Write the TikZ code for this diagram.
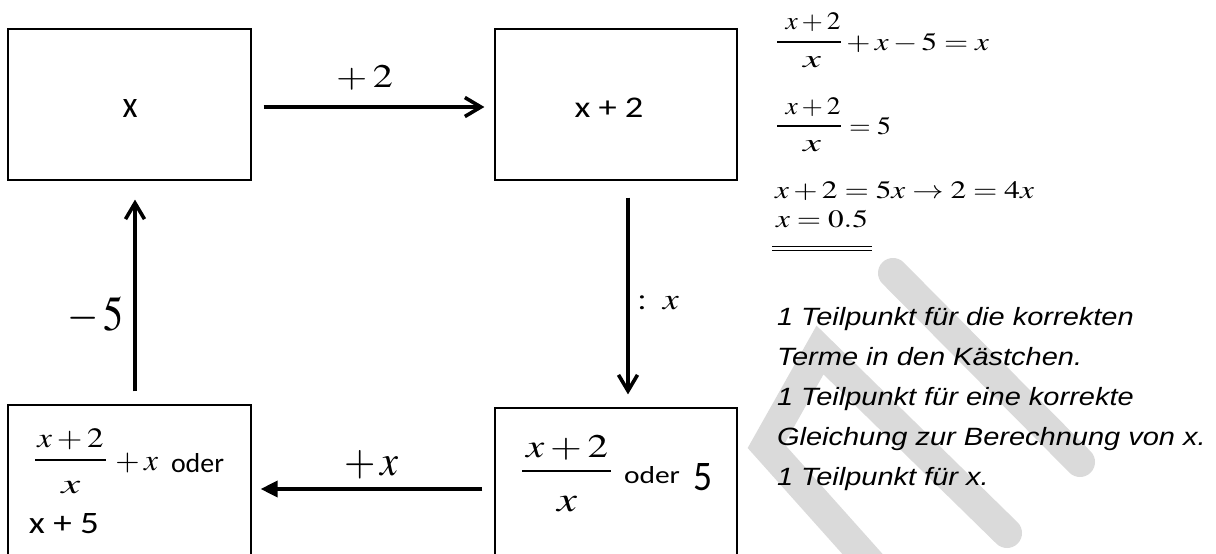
\documentclass[tikz,border=0pt]{standalone}
\usepackage{amsmath}
\usepackage{mathptmx}
\usepackage{fontspec}
\usepackage{graphicx}
\usetikzlibrary{arrows.meta}
\newfontfamily\boxfont{Carlito}
\newfontfamily\notefont{Liberation Sans}
\definecolor{wmark}{RGB}{218,218,218}
\newcommand{\fs}[1]{\fontsize{#1}{#1}\selectfont}
% math: width #1 pt at font size #2 pt (horizontal scaling only)
\newcommand{\rzm}[3]{\resizebox{#1pt}{\height}{\fs{#2}$#3$}}
% text: fit into width #1 pt and height #2 pt
\newcommand{\rzt}[3]{\resizebox{#1pt}{#2pt}{\boxfont\fs{20}#3}}
\tikzset{
 boxnode/.style={draw=black, line width=1.2pt, fill=white, rectangle, inner sep=0pt},
 plain/.style={inner sep=0pt, outer sep=0pt},
 barbarrow/.style={line width=3.6pt, -{Straight Barb[length=16pt,width=19pt]}},
 trarrow/.style={line width=3.6pt, -{Triangle[length=17pt,width=16pt]}},
 wmstroke/.style={wmark, line width=30pt, line cap=round, line join=miter},
 fbar/.style={line width=1.3pt},
}
\begin{document}
\begin{tikzpicture}[x=1pt,y=-1pt]
\useasboundingbox (0,0) rectangle (1216,554);
\clip (0,0) rectangle (1216,554);
% watermark
\draw[wmstroke] (875,568) -- (766,446) -- (820,350) -- (1007,533);
\draw[wmstroke] (893,273) -- (1080,462);
% boxes
\node[boxnode, minimum width=243pt, minimum height=151pt] (b1) at (129.5,104.5) {};
\node[boxnode, minimum width=242pt, minimum height=151pt] (b2) at (616,104.5) {};
\node[boxnode, minimum width=243pt, minimum height=155pt] (b3) at (129.5,482.5) {};
\node[boxnode, minimum width=242pt, minimum height=152pt] (b4) at (616,484) {};
% box texts
\node[plain, anchor=base] (t1) at (130,117) {\rzt{15}{18}{x}};
\node[plain, anchor=base] (t2) at (609,117) {\rzt{69}{19.5}{x + 2}};
% box 3
\node[plain, anchor=base] (n3) at (70.5,447) {\rzm{66}{28}{x+2}};
\draw[fbar] (35,460) -- (106,460);
\node[plain, anchor=base] (d3) at (71,493) {\rzm{19}{28}{x}};
\node[plain, anchor=base west] (p3) at (111,470) {\rzm{47}{30}{{}+x}};
\node[plain, anchor=base west] (o3) at (171,472) {\rzt{53}{19}{oder}};
\node[plain, anchor=base west] (t3) at (29,533) {\rzt{70}{20}{x + 5}};
% box 4
\node[plain, anchor=base] (n4) at (567,457) {\rzm{82}{33}{x+2}};
\draw[fbar] (522,471) -- (611,471);
\node[plain, anchor=base] (d4) at (567,511) {\rzm{20}{35}{x}};
\node[plain, anchor=base west] (o4) at (624,483) {\rzt{56}{17}{oder}};
\node[plain, anchor=base west] (f4) at (693,490) {\rzt{19}{27}{5}};
% arrows
\draw[barbarrow, shorten <=12pt, shorten >=10pt] ([yshift=-2.5pt]b1.east) -- ([yshift=-2.5pt]b2.west);
\draw[barbarrow, shorten <=17pt, shorten >=13pt] ([xshift=12pt]b2.south) -- ([xshift=12pt]b4.north);
\draw[trarrow, shorten <=12pt, shorten >=9pt] ([yshift=-5pt]b4.west) -- ([yshift=-6.5pt]b3.east);
\draw[barbarrow, shorten <=13pt, shorten >=19pt] ([xshift=5.5pt]b3.north) -- ([xshift=5.5pt]b1.south);
% arrow labels
\node[plain, anchor=base west] (l1) at (336,87) {\rzm{57}{33}{+\>2}};
\node[plain, anchor=base west] (l2) at (637,309) {\rzm{42}{30}{:\;x}};
\node[plain, anchor=base west] (l3) at (344,475) {\rzm{55}{43}{+\>x}};
\node[plain, anchor=base west] (l4) at (67,330) {\rzm{57}{49}{-\>5}};
% equations
\node[plain, anchor=base] (e1n) at (813,30) {\rzm{55}{25}{x+2}};
\draw[fbar] (777,42) -- (841,42);
\node[plain, anchor=base] (e1d) at (812,67) {\rzm{18}{25}{x}};
\node[plain, anchor=base west] (e1r) at (842,50) {\rzm{147}{25}{{}+x-5=x}};
\node[plain, anchor=base] (e2n) at (813,114) {\rzm{55}{25}{x+2}};
\draw[fbar] (777,126) -- (841,126);
\node[plain, anchor=base] (e2d) at (812,151) {\rzm{18}{25}{x}};
\node[plain, anchor=base west] (e2r) at (843,134) {\rzm{48}{25}{{}=5}};
\node[plain, anchor=base west] (e3) at (775,198) {\rzm{259}{25}{x+2=5x\rightarrow2=4x}};
\node[plain, anchor=base west] (e4) at (776,227) {\rzm{92}{25}{x=0.5}};
\draw[line width=1.3pt] (772,246.7) -- (872,246.7);
\draw[line width=1.3pt] (772,250.7) -- (872,250.7);
% notes
\node[plain, anchor=base west] (nt) at (777,325) {\scalebox{1.16}[1]{\notefont\itshape\fontsize{25}{40}\selectfont\begin{tabular}[t]{@{}l@{}}1 Teilpunkt für die korrekten\\ Terme in den Kästchen.\\ 1 Teilpunkt für eine korrekte\\ Gleichung zur Berechnung von x.\\ 1 Teilpunkt für x.\end{tabular}}};
\end{tikzpicture}
\end{document}
